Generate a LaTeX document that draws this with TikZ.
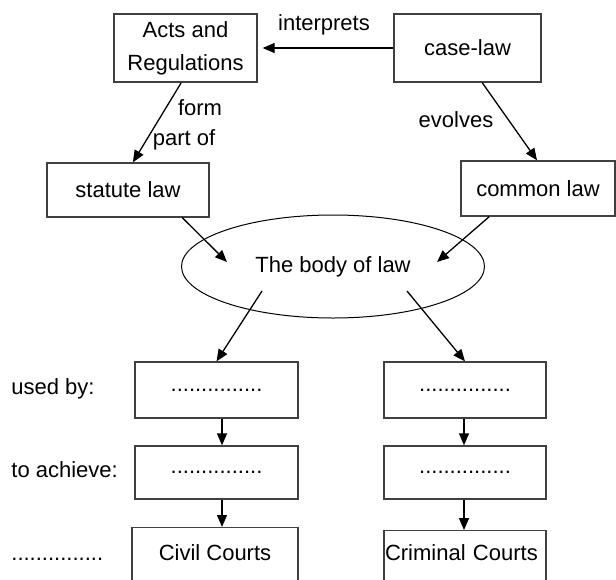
\documentclass[tikz,border=0pt]{standalone}
\usepackage{fontspec}
\setmainfont{Liberation Sans}
\usetikzlibrary{shapes.geometric,arrows.meta}

\tikzset{
  box/.style={draw=black!75, line width=0.65pt, inner sep=0pt, minimum height=27pt},
  link/.style={-{Triangle[length=6pt,width=5pt]}, line width=0.65pt},
  lbl/.style={inner sep=0pt}
}

\begin{document}
\begin{tikzpicture}[x=0.5pt, y=-0.5pt, font=\fontsize{11}{16.5}\selectfont]
    \useasboundingbox (0,0) rectangle (616,579);
    % sources of law
    \node[box, minimum width=71.5pt, minimum height=34pt, align=center] (acts) at (185.5,48) {Acts and\\Regulations};
    \node[box, minimum width=73.5pt, minimum height=34pt] (caselaw) at (467.5,48) {case-law};
    \node[box, minimum width=81pt] (statute) at (128,190) {statute law};
    \node[box, minimum width=77pt, minimum height=27.5pt] (common) at (538,188.5) {common law};
    \node[draw, ellipse, line width=0.5pt, minimum width=151.5pt, minimum height=51.5pt] (body) at (333,266.5) {The body of law};
    \coordinate (bodyNW) at (227,262);
    \coordinate (bodyNE) at (437,262);
    \coordinate (bodySW) at (262,291);
    \coordinate (bodySE) at (407,291);
    % uses of law
    \node[box, minimum width=81.5pt, minimum height=28pt] (usedL) at (216.5,390) {...............};
    \node[box, minimum width=81pt, minimum height=28pt] (usedR) at (465,390) {...............};
    \node[box, minimum width=81.5pt, minimum height=26.5pt] (achL) at (216.5,472.5) {...............};
    \node[box, minimum width=81pt, minimum height=26.5pt] (achR) at (465,472.5) {...............};
    \node[box, anchor=north, minimum width=83pt, text height=16.5pt, text depth=12pt] (civil) at (215,527) {Civil Courts};
    \node[box, anchor=north, minimum width=81pt, text width=80pt, inner xsep=0.5pt, text height=15pt, text depth=14pt] (criminal) at (465,530) {Criminal Courts};
    % row labels
    \node[lbl, anchor=west] (usedby) at (11,389) {used by:};
    \node[lbl, anchor=west] (achieve) at (11,470) {to achieve:};
    \node[lbl, anchor=south west] (courts) at (11,561) {...............};
    % links
    \draw[link, shorten >=2.5pt] (caselaw) -- (acts);
    \node[lbl] (interp) at (324,25) {interprets};
    \draw[link] (acts.263) -- (statute.80);
    \node[lbl] (form) at (200,108) {form};
    \node[lbl] (partof) at (184,140) {part of};
    \draw[link] (caselaw.293) -- (common.92);
    \node[lbl] (evolves) at (456,120) {evolves};
    \draw[link] (statute.333) -- (bodyNW);
    \draw[link] (common.210) -- (bodyNE);
    \draw[link] (bodySW) -- (usedL.north);
    \draw[link] (bodySE) -- (usedR.north);
    \draw[link] ([xshift=2.75pt]usedL.south) -- ([xshift=2.75pt]achL.north);
    \draw[link] ([xshift=-0.5pt]usedR.south) -- ([xshift=-0.5pt]achR.north);
    \draw[link] ([xshift=2.75pt]achL.south) -- ([xshift=3.5pt]civil.north);
    \draw[link] ([xshift=-0.5pt]achR.south) -- ([xshift=-0.5pt]criminal.north);
\end{tikzpicture}
\end{document}
